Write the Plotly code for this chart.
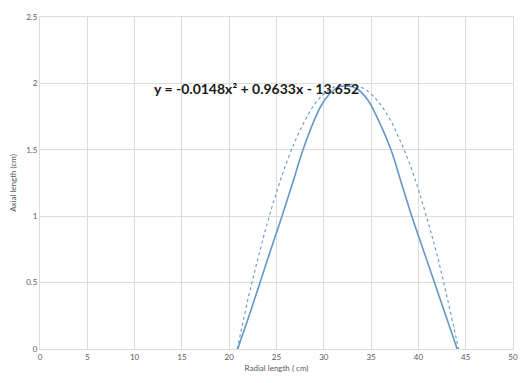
import plotly.graph_objects as go

# Measured curve (solid)
measured_x = [20.9, 22.1, 23.26, 24.4, 25.58, 26.7, 27.8, 28.8, 29.7, 30.6, 31.5, 32.5,
              33.5, 34.6, 35.8, 37.1, 38.2, 39.3, 40.5, 41.7, 42.9, 44.1]
measured_y = [0.0, 0.25, 0.5, 0.75, 1.0, 1.25, 1.5, 1.69, 1.83, 1.92, 1.97, 1.98,
              1.96, 1.88, 1.72, 1.5, 1.25, 1.0, 0.75, 0.5, 0.25, 0.0]

# Polynomial trendline (dotted)
trend_x = [20.85, 21, 22, 23, 24, 25, 26, 27, 28, 29, 30, 31, 32, 33, 34, 35, 36, 37,
           38, 39, 40, 41, 42, 43, 44, 44.24]
trend_y = [0.0, 0.05, 0.38, 0.67, 0.94, 1.18, 1.39, 1.57, 1.72, 1.84, 1.92, 1.97, 1.99,
           1.99, 1.97, 1.92, 1.84, 1.73, 1.58, 1.41, 1.2, 0.96, 0.7, 0.4, 0.08, 0.0]

x_ticks = [0, 5, 10, 15, 20, 25, 30, 35, 40, 45, 50]
y_ticks = [0, 0.5, 1, 1.5, 2, 2.5]
y_tick_labels = ["0", "0.5", "1", "1.5", "2", "2.5"]

equation = "y = -0.0148x\u00b2 + 0.9633x - 13.652"
x_title = "Radial length ( cm)"
y_title = "Axial length (cm)"

line_color = "#6497c9"
grid_color = "#dcdcdc"
font_family = "Lato, 'Open Sans', sans-serif"

fig = go.Figure()
fig.add_trace(go.Scatter(x=trend_x, y=trend_y, mode="lines", line=dict(color=line_color, width=1.1, dash="dot"),
                         line_shape="spline", showlegend=False, hoverinfo="skip"))
fig.add_trace(go.Scatter(x=measured_x, y=measured_y, mode="lines", line=dict(color=line_color, width=1.6),
                         line_shape="spline", showlegend=False))

fig.add_annotation(x=22.9, y=1.96, xref="x", yref="y", text="<b>" + equation + "</b>", showarrow=False,
                   font=dict(family=font_family, size=14, color="#1a1a1a"), xanchor="center", yanchor="middle")

axis_font = dict(family=font_family, size=8, color="#595959")
fig.update_xaxes(range=[0, 50], tickvals=x_ticks, ticktext=[str(v) for v in x_ticks], showgrid=True,
                 gridcolor=grid_color, gridwidth=1, zeroline=False, showline=True, linecolor=grid_color,
                 mirror=True, ticks="", tickfont=axis_font,
                 title=dict(text=x_title, font=axis_font, standoff=4))
fig.update_yaxes(range=[0, 2.5], tickvals=y_ticks, ticktext=y_tick_labels, showgrid=True,
                 gridcolor=grid_color, gridwidth=1, zeroline=False, showline=True, linecolor=grid_color,
                 mirror=True, ticks="", tickfont=axis_font,
                 title=dict(text=y_title, font=axis_font, standoff=8))

fig.update_layout(width=530, height=383, margin=dict(l=40, r=13, t=17, b=31),
                  plot_bgcolor="white", paper_bgcolor="white", autosize=False)

fig.write_html("out.html", config={"displayModeBar": False},
               post_script="document.body.style.margin='0';document.body.style.overflow='hidden';")
